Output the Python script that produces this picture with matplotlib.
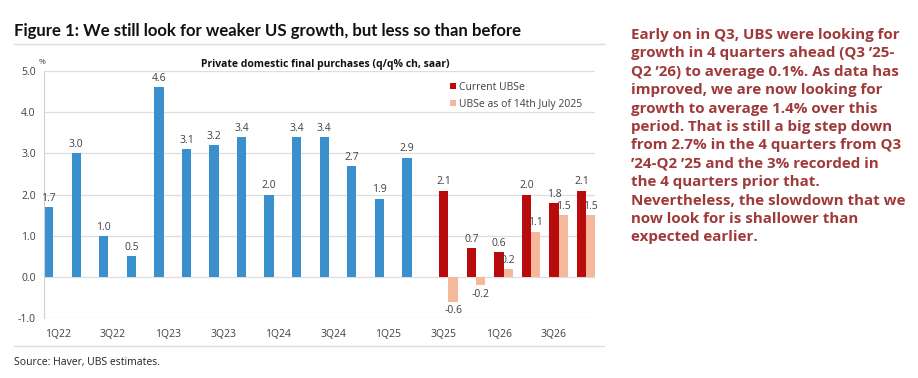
import matplotlib.pyplot as plt
import numpy as np

quarters = ["1Q22", "2Q22", "3Q22", "4Q22", "1Q23", "2Q23", "3Q23", "4Q23",
            "1Q24", "2Q24", "3Q24", "4Q24", "1Q25", "2Q25", "3Q25", "4Q25",
            "1Q26", "2Q26", "3Q26", "4Q26"]
history = [1.7, 3.0, 1.0, 0.5, 4.6, 3.1, 3.2, 3.4, 2.0, 3.4, 3.4, 2.7, 1.9, 2.9]
current = [2.1, 0.7, 0.6, 2.0, 1.8, 2.1]
july = [-0.6, -0.2, 0.2, 1.1, 1.5, 1.5]

BLUE = "#3a8fcd"
RED = "#b80c0c"
PINK = "#f5b89a"
TEXT_RED = "#a03a3a"
GREY = "#404040"

plt.rcParams["font.family"] = ["Open Sans", "DejaVu Sans"]

fig = plt.figure(figsize=(9.18, 3.78), dpi=100)
ax = fig.add_axes([44 / 918, 1 - 318.3 / 378, (595 - 44) / 918, (318.3 - 71) / 378])

w = 0.34
x_hist = np.arange(len(history))
x_fc = np.arange(len(history), len(quarters))

ax.bar(x_hist, history, width=w, align="edge", color=BLUE, zorder=2)
ax.bar(x_fc + w, current, width=w, align="edge", color=RED, zorder=2, label="Current UBSe")
ax.bar(x_fc + 2 * w, july, width=w, align="edge", color=PINK, zorder=2,
       label="UBSe as of 14th July 2025")


def label(xs, vals, off):
    for x, v in zip(xs, vals):
        y = v + 0.08 if v >= 0 else v - 0.08
        ax.text(x + off, y, f"{v:.1f}", ha="center", va="bottom" if v >= 0 else "top",
                fontsize=7.5, color=GREY)


label(x_hist, history, w / 2)
label(x_fc, current, 1.5 * w)
label(x_fc, july, 2.5 * w)

ax.set_xlim(0, len(quarters))
ax.set_ylim(-1, 5)
ax.set_yticks(np.arange(-1, 5.1, 1))
ax.set_yticklabels([f"{v:.1f}" for v in np.arange(-1, 5.1, 1)])
ax.set_xticks(np.arange(0, len(quarters), 2) + 0.5)
ax.set_xticklabels(quarters[::2])
ax.tick_params(length=0, labelsize=7.5, colors=GREY, pad=6)
ax.tick_params(axis="x", pad=8)
ax.grid(axis="y", color="#dedede", linewidth=0.9, zorder=0)
for s in ["top", "right", "bottom"]:
    ax.spines[s].set_visible(False)
ax.spines["left"].set_color("#d0d0d0")

ax.legend(loc="upper left", bbox_to_anchor=(0.72, 0.995), frameon=False, fontsize=7.5,
          handlelength=0.6, handleheight=0.6, handletextpad=0.3, labelspacing=0.6,
          labelcolor=GREY)

fig.text(14 / 918, 1 - 31 / 378, "Figure 1: We still look for weaker US growth, but less so than before",
         fontsize=12.1, fontweight="bold", va="center", color="#111111", family="Lato")
fig.add_artist(plt.Line2D([14 / 918, 605 / 918], [1 - 44 / 378] * 2, color="#dddddd", lw=1))
fig.text(325 / 918, 1 - 65 / 378, "Private domestic final purchases (q/q% ch, saar)",
         fontsize=7.5, fontweight="bold", ha="center", va="center", color="#111111")
fig.text(42 / 918, 1 - 63 / 378, "%", fontsize=6, ha="center", va="center", color=GREY)
fig.add_artist(plt.Line2D([14 / 918, 604 / 918], [1 - 346 / 378] * 2, color="#dddddd", lw=1))
fig.text(14 / 918, 1 - 362 / 378, "Source: Haver, UBS estimates.", fontsize=7.5,
         va="center", color="#222222")

note = ("Early on in Q3, UBS were looking for\n"
        "growth in 4 quarters ahead (Q3 \u201925-\n"
        "Q2 \u201926) to average 0.1%. As data has\n"
        "improved, we are now looking for\n"
        "growth to average 1.4% over this\n"
        "period. That is still a big step down\n"
        "from 2.7% in the 4 quarters from Q3\n"
        "\u201924-Q2 \u201925 and the 3% recorded in\n"
        "the 4 quarters prior that.\n"
        "Nevertheless, the slowdown that we\n"
        "now look for is shallower than\n"
        "expected earlier.")
fig.text(631 / 918, 1 - 28 / 378, note, fontsize=10.9, fontweight="bold", color=TEXT_RED,
         va="top", ha="left", linespacing=1.4)

fig.savefig("out.png", dpi=100)
